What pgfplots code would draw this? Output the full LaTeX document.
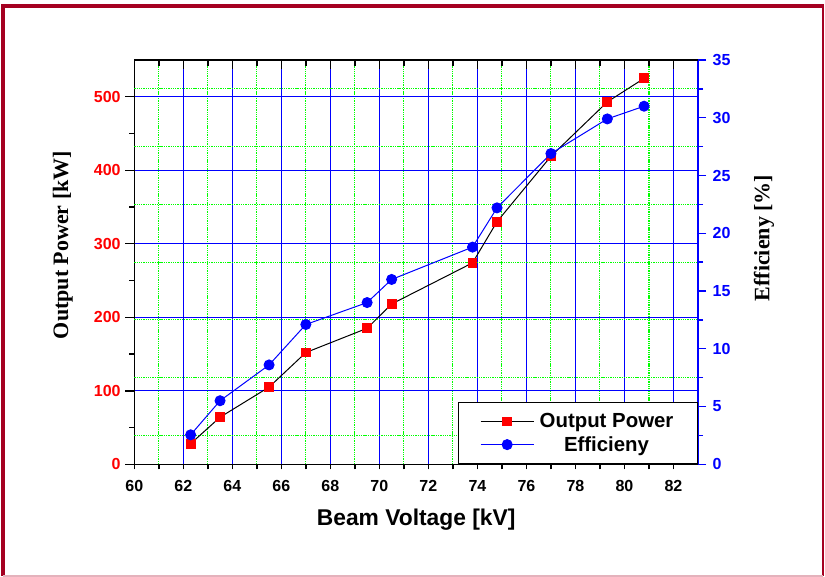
\documentclass[border=0pt]{standalone}
\usepackage{pgfplots}
\pgfplotsset{compat=1.18}
\usepackage{fontspec}
\setmainfont{Liberation Serif}
\newfontfamily\arial{Liberation Sans}
\definecolor{frame}{RGB}{165,0,33}
\definecolor{gridgreen}{RGB}{0,255,0}
\pgfplotsset{
  base/.style={scale only axis, width=422.8pt, height=303.2pt,
    at={(100.7pt,83.8pt)}, anchor=south west, xmin=60, xmax=83,
    /pgf/number format/assume math mode=true, clip=false,
    ticklabel style={font=\arial\bfseries\fontsize{12}{14}\selectfont}},
  ggrid/.style={gridgreen, line width=0.8pt, dash pattern=on 1pt off 0.7pt},
}
\begin{document}
\begin{tikzpicture}
\useasboundingbox (0,0) rectangle (618.75pt,432pt);
\draw[frame, line width=3pt] (2.25pt,0pt) -- (2.25pt,427.5pt) -- (618pt,427.5pt);
\draw[frame, line width=1.5pt] (617.3pt,427.5pt) -- (617.3pt,0pt);
\draw[frame!30, line width=1.2pt] (2.25pt,0.2pt) -- (617.3pt,0.2pt);

% grids and left axis
\begin{axis}[base, ymin=0, ymax=550, axis y line*=left,
  xtick={60,62,...,82}, minor x tick num=1,
  ytick={0,100,...,500}, minor y tick num=1,
  xmajorgrids, xminorgrids, ymajorgrids,
  major grid style={blue, line width=0.75pt},
  minor grid style={ggrid},
  xtick pos=bottom, xtick style={draw=none}, xticklabels={},
  tick align=outside, major tick length=6.75pt, minor tick length=3.75pt,
  axis line style={black, line width=1.1pt},
  ytick style={black, line width=1.1pt},
  yticklabel style={red}]
\node[font=\bfseries\fontsize{16.5}{18}\selectfont, rotate=90, anchor=center]
  at (axis description cs:-0.1265,0.5424) {Output Power [kW]};
\end{axis}

% right axis
\begin{axis}[base, ymin=0, ymax=35, hide x axis, axis y line*=right,
  ytick={0,5,...,35}, minor y tick num=1, yminorgrids,
  minor grid style={ggrid},
  tick align=outside, major tick length=6pt, minor tick length=3.75pt,
  axis line style={blue, line width=1.1pt},
  ytick style={blue, line width=1.1pt},
  yticklabel style={blue}, yticklabel shift=1.5pt]
\node[font=\bfseries\fontsize{16.5}{18}\selectfont, rotate=90, anchor=center]
  at (axis description cs:1.117,0.5597) {Efficieny [\%]};
\end{axis}

% bottom ticks and labels
\begin{axis}[base, ymin=0, ymax=550, hide y axis, axis x line*=bottom,
  xtick={60,62,...,82}, minor x tick num=1,
  tick align=outside, major tick length=3.75pt, minor tick length=3.75pt,
  axis line style={black, line width=1.1pt},
  xtick style={black, line width=1.1pt},
  xticklabel shift=5pt]
\node[font=\arial\bfseries\fontsize{17.1}{19}\selectfont, anchor=center]
  at (axis description cs:0.5,-0.1365) {Beam Voltage [kV]};
\end{axis}

% top ticks
\begin{axis}[base, ymin=0, ymax=550, hide y axis, axis x line*=top,
  xtick={60,62,...,82}, minor x tick num=1, xticklabels={},
  tick align=inside, major tick length=6.75pt, minor tick length=4.5pt,
  axis line style={black, line width=1.1pt},
  xtick style={black, line width=1.1pt}]
\end{axis}

% output power data
\begin{axis}[base, ymin=0, ymax=550, hide axis]
\addplot[black, line width=0.75pt, mark=square*, mark size=3.3pt,
  mark options={fill=red, draw=red}]
  coordinates {(62.3,28) (63.5,64) (65.5,105) (67.0,152) (69.5,185)
  (70.5,218) (73.8,274) (74.8,330) (77.0,419) (79.3,493) (80.8,525)};
\end{axis}

% efficiency data and legend
\begin{axis}[base, ymin=0, ymax=35, hide axis,
  legend cell align=center,
  legend image code/.code={\draw[mark repeat=2, mark phase=2]
     plot coordinates {(0pt,0pt) (20pt,0pt) (40pt,0pt)};},
  legend style={at={(1,0)}, anchor=south east, draw=black, line width=0.9pt,
    font=\arial\bfseries\fontsize{15.3}{17}\selectfont,
    inner xsep=16pt, inner ysep=6pt, row sep=1pt, column sep=2pt,
    nodes={inner sep=2pt}}]
\addlegendimage{black, line width=0.75pt, mark=square*, mark size=3.3pt,
  mark options={fill=red, draw=red}}
\addlegendentry{Output Power}
\addplot[blue, line width=0.75pt, mark=*, mark size=3.75pt,
  mark options={fill=blue, draw=blue}]
  coordinates {(62.3,2.55) (63.5,5.5) (65.5,8.6) (67.0,12.1) (69.5,14.0)
  (70.5,16.0) (73.8,18.8) (74.8,22.2) (77.0,26.9) (79.3,29.9) (80.8,31.0)};
\addlegendentry{Efficieny}
\end{axis}
\end{tikzpicture}
\end{document}
